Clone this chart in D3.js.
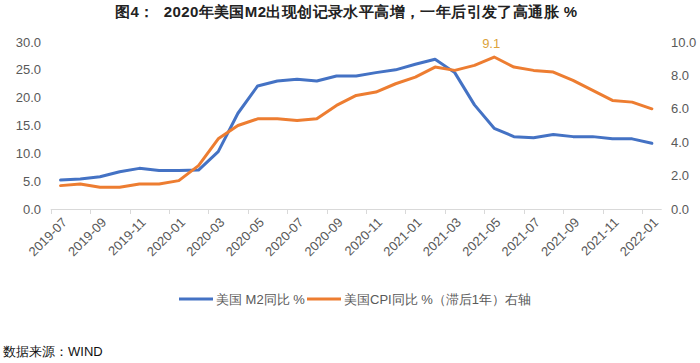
<!DOCTYPE html>
<html>
<head>
<meta charset="utf-8">
<script src="https://cdn.jsdelivr.net/npm/d3@7.9.0/dist/d3.min.js"></script>
<style>
  body { margin: 0; background: #fff; }
  text { font-family: "Liberation Sans", Arial, sans-serif; }
</style>
</head>
<body>
<div id="chart"></div>
<script>
const months = ['2019-07','2019-08','2019-09','2019-10','2019-11','2019-12',
  '2020-01','2020-02','2020-03','2020-04','2020-05','2020-06','2020-07','2020-08',
  '2020-09','2020-10','2020-11','2020-12','2021-01','2021-02','2021-03','2021-04',
  '2021-05','2021-06','2021-07','2021-08','2021-09','2021-10','2021-11','2021-12','2022-01'];

// 美国M2同比 % (left axis)
const m2 = [5.2, 5.4, 5.8, 6.7, 7.3, 6.9, 6.9, 7.0, 10.3, 17.2, 22.1, 23.0, 23.3, 23.0,
  23.9, 23.9, 24.5, 25.0, 26.0, 26.9, 24.5, 18.7, 14.5, 13.0, 12.8, 13.4, 13.0, 13.0,
  12.6, 12.6, 11.8];

// 美国CPI同比 % (lagged 1 year, right axis)
const cpi = [1.4, 1.5, 1.3, 1.3, 1.5, 1.5, 1.7, 2.6, 4.2, 5.0, 5.4, 5.4, 5.3, 5.4,
  6.2, 6.8, 7.0, 7.5, 7.9, 8.5, 8.3, 8.6, 9.1, 8.5, 8.3, 8.2, 7.7, 7.1, 6.5, 6.4, 6.0];

const leftTicks = [0, 5, 10, 15, 20, 25, 30];
const rightTicks = [0, 2, 4, 6, 8, 10];

const width = 700, height = 363;
const plot = { left: 50.7, right: 661.7, top: 42, bottom: 209 };

const svg = d3.select('#chart')
  .append('svg')
  .attr('width', width)
  .attr('height', height);

const x = d3.scaleBand()
  .domain(months)
  .range([plot.left, plot.right]);

const yL = d3.scaleLinear().domain([0, 30]).range([plot.bottom, plot.top]);
const yR = d3.scaleLinear().domain([0, 10]).range([plot.bottom, plot.top]);

// Title
svg.append('text')
  .attr('x', 115)
  .attr('y', 17)
  .attr('font-family', '"Noto Sans CJK SC", sans-serif')
  .attr('font-weight', 'bold')
  .attr('font-size', 15)
  .attr('letter-spacing', 0.4)
  .attr('fill', '#222')
  .style('white-space', 'pre')
  .text('图4：  2020年美国M2出现创记录水平高增，一年后引发了高通胀 %');

// Left axis labels
svg.append('g')
  .selectAll('text')
  .data(leftTicks)
  .join('text')
  .attr('x', 41)
  .attr('y', d => yL(d))
  .attr('dy', '0.35em')
  .attr('text-anchor', 'end')
  .attr('font-size', 13)
  .attr('fill', '#595959')
  .text(d => d.toFixed(1));

// Right axis labels
svg.append('g')
  .selectAll('text')
  .data(rightTicks)
  .join('text')
  .attr('x', 671)
  .attr('y', d => yR(d))
  .attr('dy', '0.35em')
  .attr('text-anchor', 'start')
  .attr('font-size', 13)
  .attr('fill', '#595959')
  .text(d => d.toFixed(1));

// Category axis line
svg.append('line')
  .attr('x1', plot.left)
  .attr('x2', plot.right)
  .attr('y1', plot.bottom + 0.5)
  .attr('y2', plot.bottom + 0.5)
  .attr('stroke', '#d9d9d9')
  .attr('stroke-width', 1);

// Tick marks every two months, between categories
const tickIdx = d3.range(0, months.length, 2);
svg.append('g')
  .selectAll('line')
  .data(tickIdx)
  .join('line')
  .attr('x1', i => Math.round(x(months[i])) + 0.5)
  .attr('x2', i => Math.round(x(months[i])) + 0.5)
  .attr('y1', plot.bottom)
  .attr('y2', plot.bottom + 5)
  .attr('stroke', '#d9d9d9')
  .attr('stroke-width', 1);

// Rotated month labels
svg.append('g')
  .selectAll('text')
  .data(months.filter((d, i) => i % 2 === 0))
  .join('text')
  .attr('transform', d => `translate(${x(d) + x.bandwidth() / 2 + 4}, ${plot.bottom + 11}) rotate(-45)`)
  .attr('text-anchor', 'end')
  .attr('dy', '0.35em')
  .attr('font-size', 13)
  .attr('fill', '#595959')
  .text(d => d);

const cx = d => x(d) + x.bandwidth() / 2;

const lineL = d3.line()
  .x((d, i) => cx(months[i]))
  .y(d => yL(d));

const lineR = d3.line()
  .x((d, i) => cx(months[i]))
  .y(d => yR(d));

svg.append('path')
  .attr('d', lineL(m2))
  .attr('fill', 'none')
  .attr('stroke', '#4472c4')
  .attr('stroke-width', 3)
  .attr('stroke-linejoin', 'round')
  .attr('stroke-linecap', 'round');

svg.append('path')
  .attr('d', lineR(cpi))
  .attr('fill', 'none')
  .attr('stroke', '#ed7d31')
  .attr('stroke-width', 3)
  .attr('stroke-linejoin', 'round')
  .attr('stroke-linecap', 'round');

// Peak label
const peak = d3.maxIndex(cpi);
svg.append('text')
  .attr('x', cx(months[peak]) - 3)
  .attr('y', yR(cpi[peak]) - 9)
  .attr('text-anchor', 'middle')
  .attr('font-size', 13)
  .attr('fill', '#dca33b')
  .text(cpi[peak].toFixed(1));

// Legend
const legend = svg.append('g')
  .attr('font-family', '"Noto Sans CJK SC", sans-serif')
  .attr('font-size', 13)
  .attr('fill', '#595959');

const legendItems = [
  { label: '美国 M2同比 %', color: '#4472c4', x: 179 },
  { label: '美国CPI同比 %（滞后1年）右轴', color: '#ed7d31', x: 307 }
];

legendItems.forEach(item => {
  legend.append('line')
    .attr('x1', item.x)
    .attr('x2', item.x + 34)
    .attr('y1', 299)
    .attr('y2', 299)
    .attr('stroke', item.color)
    .attr('stroke-width', 3);
  legend.append('text')
    .attr('x', item.x + 37)
    .attr('y', 299)
    .attr('dy', '0.35em')
    .text(item.label);
});

// Source
svg.append('text')
  .attr('x', 3)
  .attr('y', 351)
  .attr('dy', '0.35em')
  .attr('font-family', '"Noto Sans CJK SC", sans-serif')
  .attr('font-size', 13)
  .attr('fill', '#111')
  .text('数据来源：WIND');
</script>
</body>
</html>
